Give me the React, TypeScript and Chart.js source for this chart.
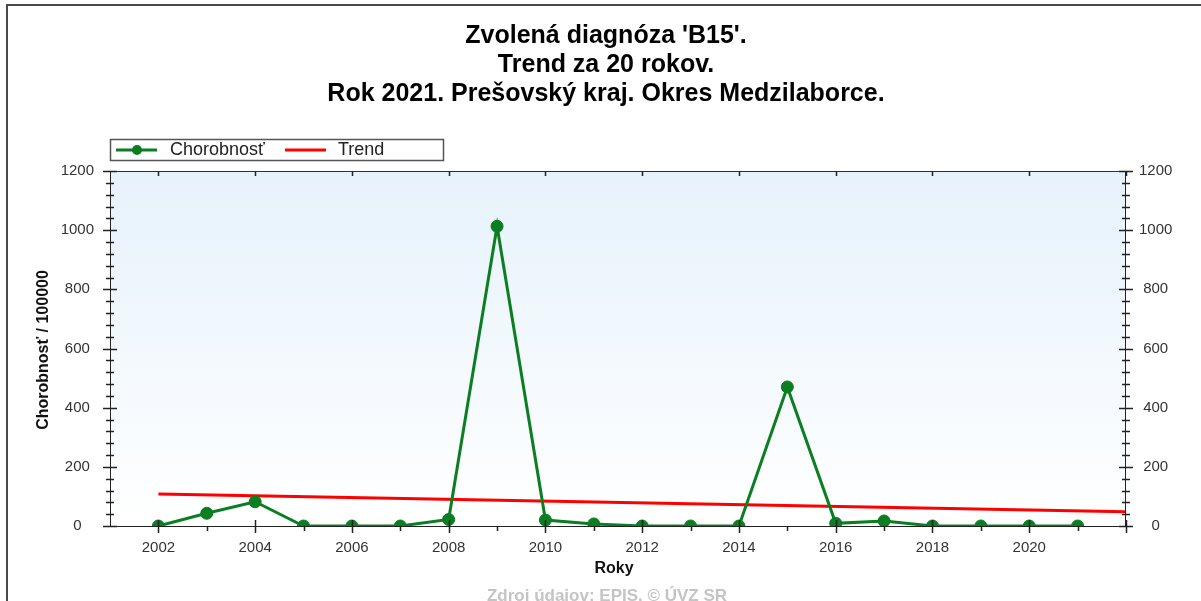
import React, { useEffect, useRef } from "react";
import { Chart, registerables } from "chart.js";

Chart.register(...registerables);

const titleLines = ["Zvolená diagnóza 'B15'.", "Trend za 20 rokov.", "Rok 2021. Prešovský kraj. Okres Medzilaborce."];
const years = [2002, 2003, 2004, 2005, 2006, 2007, 2008, 2009, 2010, 2011, 2012, 2013, 2014, 2015, 2016, 2017, 2018, 2019, 2020, 2021];
const morbidity = [0, 43, 82, 0, 0, 0, 22, 1013, 20, 7, 0, 0, 0, 470, 9, 17, 0, 0, 0, 0];
const trendYears = [2002, 2022];
const trendValues = [108, 48];
const seriesLabels = ["Chorobnosť", "Trend"];
const yAxisTitle = "Chorobnosť / 100000";
const xAxisTitle = "Roky";
const footerText = "Zdroj údajov: EPIS. © ÚVZ SR";

const GREEN = "#0b7e22";
const RED = "#ff0000";
const FONT = "'Liberation Sans', Arial, sans-serif";

const decor = {
  id: "decor",
  beforeDraw(chart: any) {
    const { ctx, chartArea: a } = chart;
    ctx.save();
    ctx.fillStyle = "#ffffff";
    ctx.fillRect(0, 0, chart.width, chart.height);
    const g = ctx.createLinearGradient(0, a.top, 0, a.bottom);
    g.addColorStop(0, "#e6f2fc");
    g.addColorStop(1, "#ffffff");
    ctx.fillStyle = g;
    ctx.fillRect(a.left, a.top, a.right - a.left, a.bottom - a.top);
    ctx.restore();
  },
  afterDraw(chart: any) {
    const { ctx, chartArea: a } = chart;
    const xs = chart.scales.x;
    const ys = chart.scales.y;
    ctx.save();
    // outer frame
    ctx.strokeStyle = "#4a4a4a";
    ctx.lineWidth = 2;
    ctx.beginPath();
    ctx.moveTo(7, 700);
    ctx.lineTo(7, 5);
    ctx.lineTo(1210, 5);
    ctx.stroke();

    // plot frame
    ctx.lineWidth = 1;
    ctx.strokeStyle = "#333";
    ctx.strokeRect(a.left + 0.5, a.top + 0.5, a.right - a.left - 1, a.bottom - a.top);
    ctx.strokeStyle = "#222";
    ctx.beginPath();
    ctx.moveTo(a.left + 0.5, a.top);
    ctx.lineTo(a.left + 0.5, a.bottom + 1);
    ctx.moveTo(a.right - 0.5, a.top);
    ctx.lineTo(a.right - 0.5, a.bottom + 1);
    ctx.moveTo(a.left, a.bottom + 0.5);
    ctx.lineTo(a.right, a.bottom + 0.5);
    ctx.stroke();

    // y ticks
    ctx.lineWidth = 1.5;
    for (let v = 0; v <= 1200; v += 40) {
      const y = Math.round(ys.getPixelForValue(v)) + 0.5;
      const major = v % 200 === 0;
      const len = major ? 7 : 4;
      ctx.beginPath();
      ctx.moveTo(a.left - len, y);
      ctx.lineTo(a.left + len, y);
      ctx.moveTo(a.right - len, y);
      ctx.lineTo(a.right + len, y);
      ctx.stroke();
    }
    // x ticks
    for (let yr = 2002; yr <= 2022; yr++) {
      const x = Math.round(xs.getPixelForValue(yr)) + 0.5;
      const major = yr % 2 === 0;
      ctx.beginPath();
      if (major) {
        ctx.moveTo(x, a.bottom - 6);
        ctx.lineTo(x, a.bottom + 7);
        ctx.moveTo(x, a.top);
        ctx.lineTo(x, a.top + 5);
      } else {
        ctx.moveTo(x, a.bottom);
        ctx.lineTo(x, a.bottom + 5);
      }
      ctx.stroke();
    }

    // title
    ctx.fillStyle = "#000";
    ctx.font = `bold 25px ${FONT}`;
    ctx.textAlign = "center";
    ctx.textBaseline = "middle";
    titleLines.forEach((t, i) => ctx.fillText(t, 606, 36 + i * 29));

    // legend
    ctx.fillStyle = "#fff";
    ctx.fillRect(110, 139, 333, 21);
    ctx.strokeStyle = "#555";
    ctx.lineWidth = 1.5;
    ctx.strokeRect(110.5, 139.5, 333, 21);
    ctx.lineWidth = 3;
    ctx.strokeStyle = GREEN;
    ctx.beginPath();
    ctx.moveTo(116, 150);
    ctx.lineTo(157, 150);
    ctx.stroke();
    ctx.fillStyle = GREEN;
    ctx.beginPath();
    ctx.arc(137, 150, 5, 0, Math.PI * 2);
    ctx.fill();
    ctx.strokeStyle = RED;
    ctx.beginPath();
    ctx.moveTo(285, 150);
    ctx.lineTo(326, 150);
    ctx.stroke();
    ctx.fillStyle = "#222";
    ctx.font = `18px ${FONT}`;
    ctx.textAlign = "left";
    ctx.fillText(seriesLabels[0], 170, 150);
    ctx.fillText(seriesLabels[1], 338, 150);

    // axis titles
    ctx.font = `bold 16px ${FONT}`;
    ctx.fillStyle = "#111";
    ctx.textAlign = "center";
    ctx.fillText(xAxisTitle, 614, 569);
    ctx.save();
    ctx.translate(44, 350);
    ctx.rotate(-Math.PI / 2);
    ctx.font = `bold 16px ${FONT}`;
    ctx.fillText(yAxisTitle, 0, 0);
    ctx.restore();

    // footer
    ctx.font = `bold 17px ${FONT}`;
    ctx.fillStyle = "#c4c4c4";
    ctx.fillText(footerText, 607, 596);
    ctx.restore();
  },
};

const tickFont = { family: FONT, size: 15 };

export default function App() {
  const ref = useRef<HTMLCanvasElement | null>(null);
  useEffect(() => {
    if (!ref.current) return;
    const chart = new Chart(ref.current, {
      type: "line",
      data: {
        datasets: [
          {
            label: seriesLabels[0],
            data: years.map((y, i) => ({ x: y, y: morbidity[i] })),
            borderColor: GREEN,
            backgroundColor: GREEN,
            borderWidth: 3,
            pointRadius: 6,
            pointBorderWidth: 1,
            pointBackgroundColor: GREEN,
            pointBorderColor: GREEN,
            clip: 0,
            order: 1,
          },
          {
            label: seriesLabels[1],
            data: trendYears.map((y, i) => ({ x: y, y: trendValues[i] })),
            borderColor: RED,
            borderWidth: 3,
            pointRadius: 0,
            clip: 0,
            order: 2,
          },
        ],
      },
      options: {
        responsive: false,
        animation: false,
        devicePixelRatio: 1,
        layout: { padding: { top: 171, left: 0, right: 0, bottom: 0 } },
        plugins: { legend: { display: false }, title: { display: false }, tooltip: { enabled: false } },
        scales: {
          x: {
            type: "linear",
            min: 2001,
            max: 2022,
            grid: { display: false, drawTicks: false },
            border: { display: false },
            afterFit: (s: any) => { s.height = 75; },
            ticks: {
              stepSize: 1,
              autoSkip: false,
              maxRotation: 0,
              padding: 13,
              color: "#333",
              font: tickFont,
              callback: (v: any) => (v % 2 === 0 && v <= 2020 ? String(v) : ""),
            },
          },
          y: {
            position: "left",
            min: 0,
            max: 1200,
            grid: { display: false, drawTicks: false },
            border: { display: false },
            afterFit: (s: any) => { s.width = 110; },
            ticks: { stepSize: 200, padding: 16, crossAlign: "center", color: "#333", font: tickFont, callback: (v: any) => String(v) },
          },
          y2: {
            position: "right",
            min: 0,
            max: 1200,
            grid: { display: false, drawTicks: false },
            border: { display: false },
            afterFit: (s: any) => { s.width = 75; },
            ticks: { stepSize: 200, padding: 13, crossAlign: "center", color: "#333", font: tickFont, callback: (v: any) => String(v) },
          },
        },
      },
      plugins: [decor],
    });
    return () => chart.destroy();
  }, []);
  return (
    <div style={{ position: "fixed", left: 0, top: 0, width: 1201, height: 601, background: "#fff" }}>
      <canvas ref={ref} width={1201} height={601} style={{ display: "block", width: 1201, height: 601 }} />
    </div>
  );
}
